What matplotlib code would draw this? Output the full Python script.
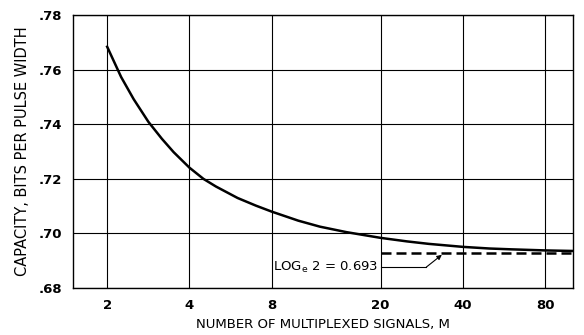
import numpy as np
import matplotlib.pyplot as plt

# capacity vs number of multiplexed signals
M = [2, 2.25, 2.5, 2.83, 3.17, 3.5, 4, 4.5, 5, 6, 7, 8, 10, 12, 15, 20,
     25, 30, 40, 50, 60, 80, 101]
CAP = [0.7684, 0.7573, 0.7492, 0.7409, 0.7347, 0.7298, 0.7241, 0.7200, 0.7172,
       0.7130, 0.7102, 0.7080, 0.7047, 0.7025, 0.7005, 0.6984, 0.6971, 0.6962,
       0.6951, 0.6945, 0.6942, 0.6938, 0.6936]

LN2 = 0.693  # asymptote, log_e 2

XTICKS = [2, 4, 8, 20, 40, 80]
YTICKS = [0.68, 0.70, 0.72, 0.74, 0.76, 0.78]
YLABELS = ['.68', '.70', '.72', '.74', '.76', '.78']

fig = plt.figure(figsize=(5.84, 3.35), dpi=100)
ax = fig.add_axes([0.125, 0.140, 0.856, 0.815])

ax.set_xscale('log')
ax.set_xlim(1.5, 101)
ax.set_ylim(0.68, 0.78)

ax.plot(M, CAP, color='black', lw=1.8, solid_joinstyle='round')
ax.plot([20, 101], [LN2, LN2], color='black', lw=1.8, dashes=(4, 2))

ax.set_xticks(XTICKS)
ax.set_xticklabels([str(t) for t in XTICKS])
ax.minorticks_off()
ax.set_yticks(YTICKS)
ax.set_yticklabels(YLABELS)
ax.tick_params(length=0, labelsize=9.5, pad=8)
for lab in ax.get_xticklabels() + ax.get_yticklabels():
    lab.set_fontweight('bold')

ax.grid(True, color='black', lw=0.8)
for s in ax.spines.values():
    s.set_linewidth(1.0)

ax.set_xlabel('NUMBER OF MULTIPLEXED SIGNALS, M', fontsize=9.5, labelpad=4)
ax.set_ylabel('CAPACITY, BITS PER PULSE WIDTH', fontsize=10.5, labelpad=6)

# label for the asymptote with a leader to the dashed line
ax.text(19.6, 0.6877, r'LOG$_{\mathrm{e}}$ 2 = 0.693', fontsize=9.5,
        ha='right', va='center')
ax.plot([20, 29.4], [0.6877, 0.6877], color='black', lw=0.8)
ax.annotate('', xy=(33.5, 0.6922), xytext=(29.4, 0.6877),
            arrowprops=dict(arrowstyle='-|>', color='black', lw=0.8,
                            mutation_scale=7, shrinkA=0, shrinkB=0))

fig.savefig('out.png', dpi=100)
